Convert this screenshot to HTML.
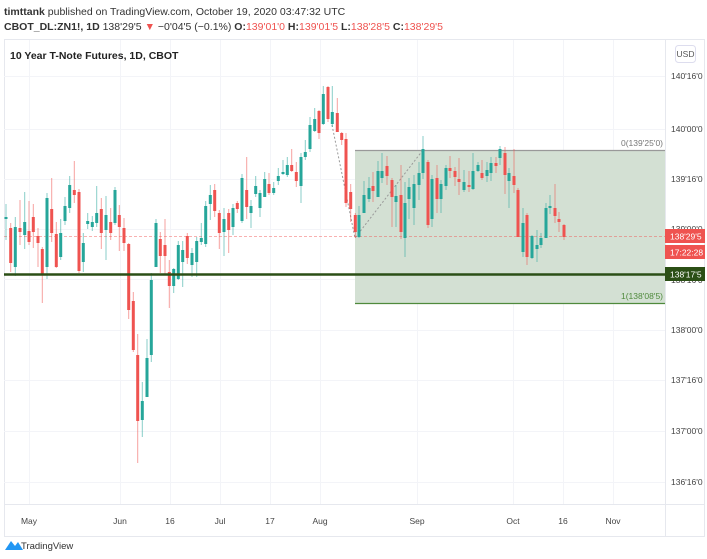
<!DOCTYPE html>
<html><head><meta charset="utf-8"><style>
body{margin:0;width:707px;height:559px;background:#fff;overflow:hidden;font-family:"Liberation Sans",sans-serif;}
svg{position:absolute;left:0;top:0}
</style></head><body>
<svg width="707" height="559" viewBox="0 0 707 559" font-family="Liberation Sans, sans-serif">
<text x="4" y="15" font-size="10.5" fill="#333"><tspan font-weight="bold">timttank</tspan> published on TradingView.com, October 19, 2020 03:47:32 UTC</text>
<text x="4" y="30" font-size="10.5" fill="#333"><tspan font-weight="bold">CBOT_DL:ZN1!, 1D</tspan> 138'29'5 <tspan fill="#ef5350">▼</tspan> −0'04'5 (−0.1%) <tspan font-weight="bold">O:</tspan><tspan fill="#ef5350">139'01'0</tspan> <tspan font-weight="bold">H:</tspan><tspan fill="#ef5350">139'01'5</tspan> <tspan font-weight="bold">L:</tspan><tspan fill="#ef5350">138'28'5</tspan> <tspan font-weight="bold">C:</tspan><tspan fill="#ef5350">138'29'5</tspan></text>
<rect x="4.5" y="39.5" width="700" height="497" fill="none" stroke="#e6e8ee"/>
<g stroke="#f3f4f8" stroke-width="1">
<path d="M29.5 40V504M120.5 40V504M170.5 40V504M220.5 40V504M270.5 40V504M320.5 40V504M417.5 40V504M513.5 40V504M563.5 40V504M613.5 40V504"/>
<path d="M4 76.5H665M4 129.5H665M4 179.5H665M4 229.5H665M4 279.5H665M4 330.5H665M4 380.5H665M4 431.5H665M4 482.5H665"/>
</g>
<line x1="665.5" y1="40" x2="665.5" y2="537" stroke="#e6e8ee"/>
<line x1="4" y1="504.5" x2="705" y2="504.5" stroke="#e6e8ee"/>
<text x="10" y="59" font-size="10.5" font-weight="bold" fill="#222">10 Year T-Note Futures, 1D, CBOT</text>
<rect x="675.5" y="45.5" width="20" height="17" rx="3" fill="#fff" stroke="#dde"/>
<text x="685.5" y="57" font-size="8.5" fill="#555" text-anchor="middle">USD</text>
<!-- rectangle -->
<rect x="355" y="150" width="310" height="154" fill="#d3e0d3"/>
<line x1="355" y1="150.5" x2="665" y2="150.5" stroke="#999" stroke-width="1.2"/>
<line x1="355" y1="303.5" x2="665" y2="303.5" stroke="#4f8a3c" stroke-width="1.2"/>
<text x="663" y="146" font-size="8.5" fill="#777" text-anchor="end">0(139'25'0)</text>
<text x="663" y="299" font-size="8.5" fill="#4f8a3c" text-anchor="end">1(138'08'5)</text>
<!-- dashed lines -->
<path d="M332 125L355 238L423 150" fill="none" stroke="#999" stroke-dasharray="2,2" stroke-width="1"/>
<line x1="4" y1="236.5" x2="665" y2="236.5" stroke="#ef5350" stroke-dasharray="3,2" stroke-width="0.8" opacity="0.6"/>
<!-- teal wicks -->
<path stroke="#26a69a" stroke-width="1" opacity="0.55" fill="none" d="M6 204V240M15.3 217V276M24.7 192V249M47 193V279M60.7 219V260M65 197V225M69.7 176V213M83.3 233V272M87.7 213V229M92.3 216V231M96.7 186V227M106 196V260M115 187V225M142.3 382V437M147 339V397M151.3 273V362M156 219V267M173.7 268V293M178.3 241V280M182.7 241V287M192 248V277M196.7 237V277M201.3 223V245M205.7 201V247M210.3 185V220M224 208V256M233 204V235M242 174V223M251 200V228M255.7 176V197M260 190V217M264.7 172V197M273.7 182V195M278.3 168V185M283 160V175M287.3 157V177M301 153V203M305.3 140V160M310 117V152M314.7 108V132M323.3 86V125M332.3 86V127M359 206V238M364 181V213M369 177V202M378 161V197M382 153V183M396 185V227M405 182V257M409 178V219M414 175V225M419 162V200M423 136V179M432 175V227M441 180V213M446 165V190M464 170V192M473 153V190M478 162V172M487 162V182M491 157V181M500 146V165M509 168V208M523 208V257M532 235V259M537 230V262M541 233V248M546 203V238M550 195V214"/>
<path fill="#26a69a" d="M4.5 217h3V219h-3zM13.8 227h3V267h-3zM23.2 222h3V235h-3zM45.5 198h3V267h-3zM59.2 233h3V257h-3zM63.5 206h3V221h-3zM68.2 185h3V208h-3zM81.8 243h3V262h-3zM86.2 221h3V224h-3zM90.8 222h3V227h-3zM95.2 213h3V223h-3zM104.5 215h3V230h-3zM113.5 190h3V223h-3zM140.8 401h3V420h-3zM145.5 358h3V397h-3zM149.8 280h3V355h-3zM154.5 223h3V267h-3zM172.2 269h3V286h-3zM176.8 245h3V279h-3zM181.2 250h3V262h-3zM190.5 253h3V265h-3zM195.2 241h3V262h-3zM199.8 238h3V242h-3zM204.2 206h3V244h-3zM208.8 195h3V204h-3zM222.5 219h3V232h-3zM231.5 208h3V227h-3zM240.5 178h3V221h-3zM249.5 206h3V213h-3zM254.2 186h3V194h-3zM258.5 193h3V208h-3zM263.2 179h3V197h-3zM272.2 188h3V193h-3zM276.8 176h3V181h-3zM281.5 172h3V174h-3zM285.8 165h3V175h-3zM299.5 157h3V186h-3zM303.8 152h3V157h-3zM308.5 125h3V149h-3zM313.2 119h3V131h-3zM321.8 94h3V124h-3zM330.8 112h3V124h-3zM357.5 215h3V237h-3zM362.5 195h3V213h-3zM367.5 188h3V199h-3zM376.5 171h3V197h-3zM380.5 171h3V178h-3zM394.5 196h3V202h-3zM403.5 203h3V238h-3zM407.5 187h3V199h-3zM412.5 184h3V208h-3zM417.5 173h3V185h-3zM421.5 149h3V173h-3zM430.5 179h3V219h-3zM439.5 184h3V199h-3zM444.5 168h3V186h-3zM462.5 182h3V190h-3zM471.5 171h3V189h-3zM476.5 165h3V171h-3zM485.5 170h3V176h-3zM489.5 163h3V173h-3zM498.5 149h3V158h-3zM507.5 173h3V181h-3zM521.5 223h3V252h-3zM530.5 236h3V258h-3zM535.5 245h3V249h-3zM539.5 238h3V245h-3zM544.5 208h3V238h-3zM548.5 206h3V208h-3z"/>
<!-- red wicks -->
<path stroke="#ef5350" stroke-width="1" opacity="0.55" fill="none" d="M10.7 223V272M20 200V245M29 201V245M33.3 204V248M38 228V267M42.3 247V303M51.7 178V242M56.3 222V268M74.3 161V203M79 189V273M101.3 198V249M110.7 208V240M119.3 205V251M124 218V251M128.7 243V319M133.3 292V352M137.7 334V463M160.3 232V273M165 219V275M169.3 260V308M187.3 233V264M214.7 184V217M219.3 210V249M228.7 209V253M237.3 201V213M246.7 157V219M269 173V195M291.7 149V172M296.3 162V187M319 110V139M328 86V122M337.3 98V132M341.7 132V145M346 133V207M350.7 184V222M355.3 213V238M373 172V202M387 156V185M392 178V227M401 165V239M428 160V228M437 165V213M450 156V178M455 167V186M459 158V195M469 171V192M482 160V180M496 157V173M505 147V194M514 149V193M518 188V237M527 213V265M555 184V223M559 212V232M564 224V240"/>
<path fill="#ef5350" d="M9.2 228h3V263h-3zM18.5 228h3V232h-3zM27.5 231h3V242h-3zM31.8 217h3V232h-3zM36.5 236h3V243h-3zM40.8 249h3V274h-3zM50.2 209h3V233h-3zM54.8 234h3V267h-3zM72.8 190h3V195h-3zM77.5 192h3V271h-3zM99.8 209h3V233h-3zM109.2 222h3V233h-3zM117.8 215h3V227h-3zM122.5 228h3V243h-3zM127.2 244h3V310h-3zM131.8 301h3V350h-3zM136.2 355h3V421h-3zM158.8 239h3V256h-3zM163.5 245h3V256h-3zM167.8 272h3V286h-3zM185.8 236h3V258h-3zM213.2 190h3V211h-3zM217.8 213h3V233h-3zM227.2 213h3V230h-3zM235.8 203h3V209h-3zM245.2 190h3V207h-3zM267.5 184h3V193h-3zM290.2 165h3V171h-3zM294.8 172h3V181h-3zM317.5 111h3V133h-3zM326.5 87h3V119h-3zM335.8 113h3V132h-3zM340.2 133h3V140h-3zM344.5 139h3V203h-3zM349.2 192h3V209h-3zM353.8 215h3V232h-3zM371.5 186h3V191h-3zM385.5 166h3V176h-3zM390.5 180h3V197h-3zM399.5 195h3V232h-3zM426.5 162h3V225h-3zM435.5 178h3V199h-3zM448.5 168h3V171h-3zM453.5 171h3V177h-3zM457.5 179h3V182h-3zM467.5 185h3V187h-3zM480.5 173h3V178h-3zM494.5 163h3V166h-3zM503.5 153h3V175h-3zM512.5 176h3V185h-3zM516.5 190h3V237h-3zM525.5 215h3V257h-3zM553.5 208h3V216h-3zM557.5 219h3V222h-3zM562.5 225h3V237h-3z"/>
<!-- support line -->
<line x1="4" y1="274.5" x2="665" y2="274.5" stroke="#2b4f16" stroke-width="2.5"/>
<!-- price axis labels -->
<g font-size="8.5" fill="#444">
<text x="671" y="79">140'16'0</text>
<text x="671" y="132">140'00'0</text>
<text x="671" y="182">139'16'0</text>
<text x="671" y="232">139'00'0</text>
<text x="671" y="283">138'16'0</text>
<text x="671" y="333">138'00'0</text>
<text x="671" y="383">137'16'0</text>
<text x="671" y="434">137'00'0</text>
<text x="671" y="485">136'16'0</text>
</g>
<rect x="665" y="229" width="40" height="14" fill="#ef5350"/>
<text x="670" y="239.5" font-size="8.5" fill="#fff">138'29'5</text>
<rect x="665" y="245" width="40" height="14" fill="#ef5350"/>
<text x="670" y="255.5" font-size="8.5" fill="#fff">17:22:28</text>
<rect x="665" y="267" width="40" height="14" fill="#2b4f16"/>
<text x="670" y="277.5" font-size="8.5" fill="#fff">138'17'5</text>
<!-- time axis -->
<g font-size="8.5" fill="#444" text-anchor="middle">
<text x="29" y="524">May</text><text x="120" y="524">Jun</text><text x="170" y="524">16</text>
<text x="220" y="524">Jul</text><text x="270" y="524">17</text><text x="320" y="524">Aug</text>
<text x="417" y="524">Sep</text><text x="513" y="524">Oct</text><text x="563" y="524">16</text>
<text x="613" y="524">Nov</text>
</g>
<path d="M5 550L11 541L15 546L18 542L23 550Z" fill="#2196f3"/>
<text x="21" y="549" font-size="9.5" fill="#333">TradingView</text>
</svg>
</body></html>
